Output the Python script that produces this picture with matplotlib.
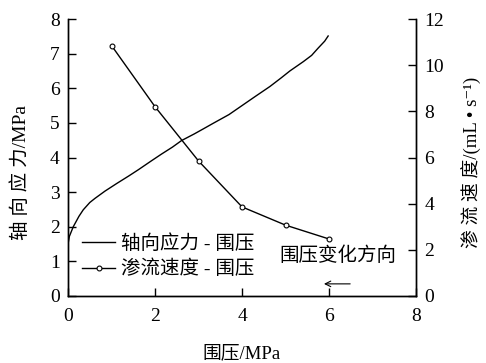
import matplotlib
matplotlib.use('Agg')
import matplotlib.pyplot as plt

plt.rcParams['font.family'] = ['Liberation Serif', 'Noto Sans CJK SC', 'DejaVu Sans']

# axial stress vs confining pressure
press = [0, 0.03, 0.12, 0.25, 0.35, 0.5, 0.62, 0.85, 1.12, 1.4, 1.62, 1.9,
         2.15, 2.4, 2.61, 2.9, 3.1, 3.34, 3.7, 4.0, 4.3, 4.64, 4.9, 5.1,
         5.41, 5.6, 5.75, 5.9, 5.98]
stress = [1.5, 1.72, 2.0, 2.3, 2.49, 2.7, 2.82, 3.03, 3.25, 3.47, 3.65, 3.89,
          4.1, 4.3, 4.49, 4.68, 4.82, 4.99, 5.24, 5.5, 5.76, 6.05, 6.3, 6.5,
          6.77, 6.95, 7.16, 7.36, 7.51]

# seepage speed vs confining pressure
press2 = [1, 2, 3, 4, 5, 6]
speed = [10.85, 8.2, 5.85, 3.86, 3.07, 2.47]

fig = plt.figure(figsize=(4.86, 3.63), dpi=100)
ax = fig.add_axes([0.14, 0.1846, 0.716, 0.763])
ax2 = ax.twinx()

l1, = ax.plot(press, stress, 'k-', linewidth=1)
l2, = ax2.plot(press2, speed, 'k-', linewidth=1, marker='o', markersize=3.5,
               markerfacecolor='white', markeredgewidth=0.8)

ax.set_xlim(0, 8)
ax.set_ylim(0, 8)
ax2.set_ylim(0, 12)
ax.set_xticks([0, 2, 4, 6, 8])
ax.set_yticks(range(0, 9))
ax2.set_yticks(range(0, 13, 2))

for a in (ax, ax2):
    a.spines['top'].set_visible(False)
    a.tick_params(direction='in', length=6, width=1, labelsize=14, pad=6)
    for s in a.spines.values():
        s.set_linewidth(1)
ax.tick_params(axis='x', pad=9)

ax.set_xlabel('围压/MPa', fontsize=13.5, labelpad=14)
# the original spreads the CJK characters of the y labels
ax.set_ylabel('轴 向 应 力/MPa', fontsize=14)
ax.yaxis.set_label_coords(-0.11, 0.447)
ax2.set_ylabel('渗 流 速 度/(mL • s⁻¹)', fontsize=13.5)
ax2.yaxis.set_label_coords(1.132, 0.484)

ax.legend([l1, l2], ['轴向应力 - 围压', '渗流速度 - 围压'], loc='lower left',
          bbox_to_anchor=(-0.01, 0.0), frameon=False, fontsize=14,
          handlelength=1.7, handletextpad=0.3, labelspacing=0.35)

ax.text(6.2, 1.16, '围压变化方向', fontsize=14, ha='center', va='center')
ax.annotate('', xy=(5.82, 0.35), xytext=(6.55, 0.35),
            arrowprops=dict(arrowstyle='->', color='k', lw=0.8))

fig.savefig('out.png', dpi=100)
